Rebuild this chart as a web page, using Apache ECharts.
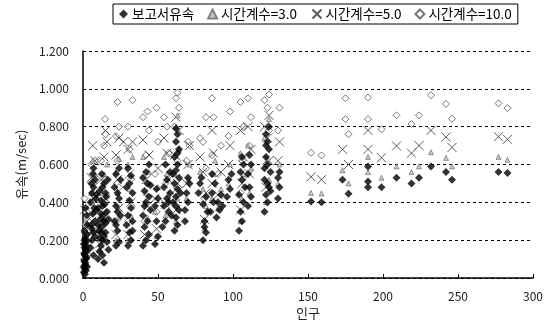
<!DOCTYPE html>
<html>
<head>
<meta charset="utf-8">
<script src="https://cdn.jsdelivr.net/npm/echarts@6/dist/echarts.min.js"></script>
<style>
html,body{margin:0;padding:0;background:#fff;}
#main{width:546px;height:331px;}
</style>
</head>
<body>
<div id="main"></div>
<script>
var seriesNames = ['보고서유속', '시간계수=3.0', '시간계수=5.0', '시간계수=10.0'];
var yTicks = [0, 0.2, 0.4, 0.6, 0.8, 1.0, 1.2];
var xTicks = [0, 50, 100, 150, 200, 250, 300];

// 보고서유속 (filled diamonds)
var report = [
  [0.5,0.03],[1,0.05],[1.5,0.07],[0.8,0.09],[2,0.1],[1.2,0.12],[2.5,0.14],[1,0.16],[0.5,0.18],[2,0.19],
  [1.5,0.21],[2.8,0.23],[1,0.25],[2,0.04],[1.6,0.08],[0.7,0.13],[2.2,0.17],[1.3,0.02],[3,0.28],[2.5,0.33],
  [1.8,0.37],[0.6,0.06],[2.4,0.11],[1.9,0.15],[1.1,0.2],[2.7,0.06],
  [5,0.16],[6,0.2],[7,0.24],[5.5,0.28],[8,0.3],[6.5,0.34],[7.5,0.37],[5,0.4],[8.5,0.42],[6,0.45],
  [7,0.48],[5.5,0.5],[8,0.52],[6.5,0.55],[7,0.58],[9,0.44],[9,0.36],[6,0.26],[8,0.22],[7,0.12],
  [10,0.1],[11,0.14],[12,0.17],[13,0.2],[14,0.22],[10.5,0.25],[12.5,0.27],[15,0.29],[11.5,0.31],[13.5,0.33],
  [16,0.35],[10,0.37],[14.5,0.39],[12,0.41],[15.5,0.43],[11,0.46],[13,0.48],[14,0.5],[16.5,0.52],[12.5,0.55],
  [15,0.24],[17,0.31],[16,0.19],[13,0.12],[14,0.08],[11,0.21],[12,0.34],[15,0.45],[10,0.28],[17,0.15],
  [13,0.38],[14,0.3],[12,0.24],
  [22,0.17],[24,0.19],[23,0.25],[21,0.3],[25,0.33],[22,0.38],[24,0.42],[23,0.45],[21,0.48],[25,0.52],
  [22,0.55],[24,0.58],[23,0.35],[22,0.28],
  [30,0.17],[32,0.2],[31,0.24],[29,0.28],[33,0.3],[30,0.33],[32,0.37],[31,0.41],[33,0.45],[29,0.48],
  [31,0.5],[32,0.54],[30,0.58],[33,0.25],
  [40,0.17],[42,0.2],[44,0.23],[41,0.27],[43,0.3],[40,0.33],[45,0.36],[42,0.4],[44,0.43],[41,0.46],
  [43,0.5],[40,0.53],[42,0.56],[44,0.6],[45,0.49],[41,0.38],
  [48,0.18],[50,0.22],[49,0.3],[48,0.38],[50,0.42],[49,0.47],
  [53,0.27],[55,0.3],[57,0.35],[54,0.38],[56,0.42],[58,0.45],[54,0.48],[56,0.52],[58,0.56],[55,0.6],
  [57,0.4],[59,0.33],
  [61,0.25],[63,0.28],[62,0.32],[64,0.36],[60,0.4],[62,0.43],[63,0.47],[61,0.5],[64,0.53],[62,0.57],
  [63,0.6],[61,0.64],[64,0.68],[62,0.72],[63,0.76],[62,0.79],[60,0.55],[65,0.45],[62,0.38],[63,0.66],
  [68,0.36],[70,0.4],[69,0.45],[71,0.5],[70,0.53],[68,0.3],
  [77,0.45],[78,0.5],[79,0.53],
  [80,0.2],[82,0.24],[81,0.3],[83,0.35],[80,0.39],[82,0.43],[81,0.27],
  [85,0.35],[87,0.4],[86,0.45],[88,0.5],[86,0.55],
  [89,0.32],[91,0.36],[90,0.4],[92,0.44],[93,0.38],
  [96,0.43],[98,0.47],[97,0.52],[99,0.55],
  [104,0.25],[106,0.3],[105,0.35],[107,0.4],[104,0.44],[108,0.48],[106,0.52],[105,0.56],[107,0.6],[106,0.64],
  [110,0.38],[112,0.43],[111,0.48],[110,0.55],[112,0.6],[111,0.65],
  [121,0.35],[123,0.4],[122,0.44],[124,0.48],[121,0.52],[125,0.56],[123,0.6],[122,0.64],[124,0.68],[123,0.72],
  [122,0.76],[124,0.8],[121,0.58],[125,0.46],[123,0.5],[122,0.7],
  [130,0.42],[131,0.48],[130,0.53],[131,0.56],
  [152,0.405],[159,0.4],[173,0.52],[177,0.445],[190,0.59],[190,0.51],[190,0.48],[199,0.48],[209,0.53],
  [219,0.5],[224,0.53],[232,0.59],[242,0.56],[246,0.52],[277,0.56],[283,0.555]
];

// 시간계수=3.0 (small triangles)
var coef3 = [
  [1,0.06],[2,0.12],[1.5,0.18],[2.5,0.24],[1,0.29],
  [6,0.25],[7,0.35],[5.5,0.45],[8,0.55],[6.5,0.62],
  [11,0.15],[13,0.25],[15,0.35],[12,0.45],[14,0.55],[16,0.6],
  [22,0.2],[24,0.32],[23,0.45],[22,0.56],[24,0.63],
  [30,0.2],[32,0.33],[31,0.47],[30,0.6],[33,0.64],
  [41,0.2],[43,0.32],[42,0.45],[44,0.56],[40,0.64],
  [49,0.22],[48,0.35],[50,0.48],
  [55,0.33],[57,0.44],[56,0.55],[54,0.64],
  [62,0.3],[63,0.42],[61,0.55],[64,0.68],[62,0.8],[63,0.86],
  [69,0.42],[70,0.52],[71,0.6],
  [78,0.56],[81,0.26],[82,0.38],[80,0.47],
  [86,0.42],[87,0.55],[90,0.37],[92,0.47],[88,0.62],
  [97,0.5],[98,0.6],
  [105,0.3],[106,0.42],[107,0.55],[105,0.66],[111,0.45],[112,0.58],[110,0.7],
  [122,0.4],[124,0.52],[123,0.63],[121,0.74],[124,0.84],
  [130,0.5],[131,0.6],
  [152,0.45],[159,0.447],[173,0.57],[177,0.5],[190,0.64],[190,0.56],[199,0.53],[209,0.59],
  [219,0.56],[224,0.59],[232,0.665],[242,0.635],[246,0.59],[277,0.64],[283,0.625]
];

// 시간계수=5.0 (crosses)
var coef5 = [
  [1,0.08],[2,0.15],[1.5,0.22],[2.5,0.3],[1,0.36],
  [6,0.3],[7,0.42],[5.5,0.53],[8,0.62],[6.5,0.7],
  [11,0.18],[13,0.3],[15,0.42],[12,0.52],[14,0.64],[16,0.72],[15,0.78],
  [22,0.23],[24,0.37],[23,0.52],[22,0.65],[24,0.74],[27,0.72],
  [30,0.23],[32,0.4],[31,0.55],[30,0.68],[33,0.72],
  [41,0.23],[43,0.38],[42,0.52],[44,0.65],[40,0.73],
  [49,0.26],[48,0.42],[50,0.58],
  [55,0.39],[57,0.52],[56,0.66],[54,0.74],
  [62,0.36],[63,0.5],[61,0.65],[64,0.78],[62,0.85],
  [69,0.5],[70,0.6],[71,0.7],
  [78,0.64],[81,0.31],[82,0.45],[80,0.56],
  [86,0.5],[87,0.66],[86,0.78],[90,0.44],[92,0.56],
  [97,0.6],[98,0.7],
  [105,0.36],[106,0.5],[107,0.64],[105,0.78],[111,0.55],[112,0.68],[110,0.8],
  [122,0.48],[124,0.62],[123,0.74],[121,0.8],[124,0.86],
  [130,0.62],[131,0.72],
  [152,0.535],[159,0.52],[173,0.68],[177,0.6],[190,0.78],[190,0.68],[199,0.636],[209,0.698],
  [219,0.66],[224,0.7],[232,0.78],[242,0.745],[246,0.69],[277,0.747],[283,0.733]
];

// 시간계수=10.0 (open diamonds)
var coef10 = [
  [1,0.1],[2,0.2],[1.5,0.28],[2.5,0.35],[1,0.42],
  [6,0.4],[7,0.5],[5.5,0.6],[8,0.62],
  [11,0.25],[13,0.4],[15,0.52],[12,0.62],[14,0.7],[15,0.76],[14.7,0.84],
  [22,0.3],[24,0.48],[23,0.62],[22,0.75],[24,0.8],[23,0.93],
  [30,0.3],[32,0.52],[31,0.68],[30,0.8],[33,0.94],
  [41,0.3],[43,0.5],[42,0.65],[44,0.78],[40,0.85],[43,0.88],
  [49,0.35],[48,0.55],[50,0.72],[49,0.9],
  [55,0.5],[57,0.66],[56,0.8],[54,0.85],
  [62,0.45],[63,0.62],[61,0.8],[64,0.9],[62,0.95],[63,0.98],
  [69,0.62],[70,0.72],[71,0.7],
  [78,0.74],[81,0.42],[82,0.58],[80,0.72],[82,0.85],
  [86,0.65],[87,0.85],[86,0.95],[90,0.55],[92,0.7],
  [97,0.75],[98,0.88],
  [105,0.45],[106,0.62],[107,0.8],[105,0.93],[111,0.7],[112,0.85],[110,0.95],
  [122,0.6],[124,0.78],[123,0.9],[121,0.94],[124,0.97],
  [130,0.78],[131,0.9],
  [152,0.662],[159,0.648],[175,0.95],[175,0.84],[177,0.76],[190,0.955],[190,0.84],[199,0.786],
  [209,0.86],[219,0.814],[224,0.86],[232,0.966],[242,0.92],[246,0.842],[277,0.923],[283,0.898]
];

var font = '"Noto Sans CJK KR", "DejaVu Sans", sans-serif';
var crossPath = 'path://M0,0L10,10M10,0L0,10';

var chart = echarts.init(document.getElementById('main'));
var option = {
  backgroundColor: '#fff',
  animation: false,
  textStyle: { fontFamily: font },
  legend: {
    left: 113,
    top: 4,
    padding: [3, 6, 3, 6],
    itemGap: 13,
    itemWidth: 9,
    itemHeight: 9,
    borderColor: '#000',
    borderWidth: 1,
    textStyle: { fontSize: 13.5, color: '#000', fontFamily: font, padding: [0, 0, 0, -1] },
    data: seriesNames
  },
  grid: { left: 83, right: 13, top: 51, bottom: 53 },
  xAxis: {
    type: 'value',
    min: xTicks[0],
    max: xTicks[xTicks.length - 1],
    interval: 50,
    name: '인구',
    nameLocation: 'middle',
    nameGap: 27,
    nameTextStyle: { fontSize: 13, color: '#222', fontFamily: font },
    axisLine: { lineStyle: { color: '#000', width: 1.5 } },
    axisTick: { inside: true, length: 4, lineStyle: { color: '#000' } },
    axisLabel: { fontSize: 12, color: '#222', margin: 12 },
    splitLine: { show: false }
  },
  yAxis: {
    type: 'value',
    min: yTicks[0],
    max: yTicks[yTicks.length - 1],
    interval: 0.2,
    name: '유속(m/sec)',
    nameLocation: 'middle',
    nameGap: 55,
    nameRotate: 90,
    nameTextStyle: { fontSize: 13, color: '#222', fontFamily: font },
    axisLine: { show: true, lineStyle: { color: '#000', width: 1.5 } },
    axisTick: { show: false },
    axisLabel: {
      fontSize: 12, color: '#222', margin: 14,
      formatter: function (v) { return v.toFixed(3); }
    },
    splitLine: { show: true, lineStyle: { color: '#000', type: [3, 3], width: 1 } }
  },
  series: [
    {
      name: seriesNames[0], type: 'scatter', data: report,
      symbol: 'diamond', symbolSize: 8,
      itemStyle: { color: '#000' }, z: 4
    },
    {
      name: seriesNames[1], type: 'scatter', data: coef3,
      symbol: 'triangle', symbolSize: 5,
      itemStyle: { color: '#bbb', borderColor: '#666', borderWidth: 0.8 }, z: 3
    },
    {
      name: seriesNames[2], type: 'scatter', data: coef5,
      symbol: crossPath, symbolSize: 9,
      itemStyle: { color: 'none', borderColor: '#333', borderWidth: 1 }, z: 2
    },
    {
      name: seriesNames[3], type: 'scatter', data: coef10,
      symbol: 'diamond', symbolSize: 7,
      itemStyle: { color: '#fff', borderColor: '#555', borderWidth: 1 }, z: 1
    }
  ]
};
chart.setOption(option);
</script>
</body>
</html>
